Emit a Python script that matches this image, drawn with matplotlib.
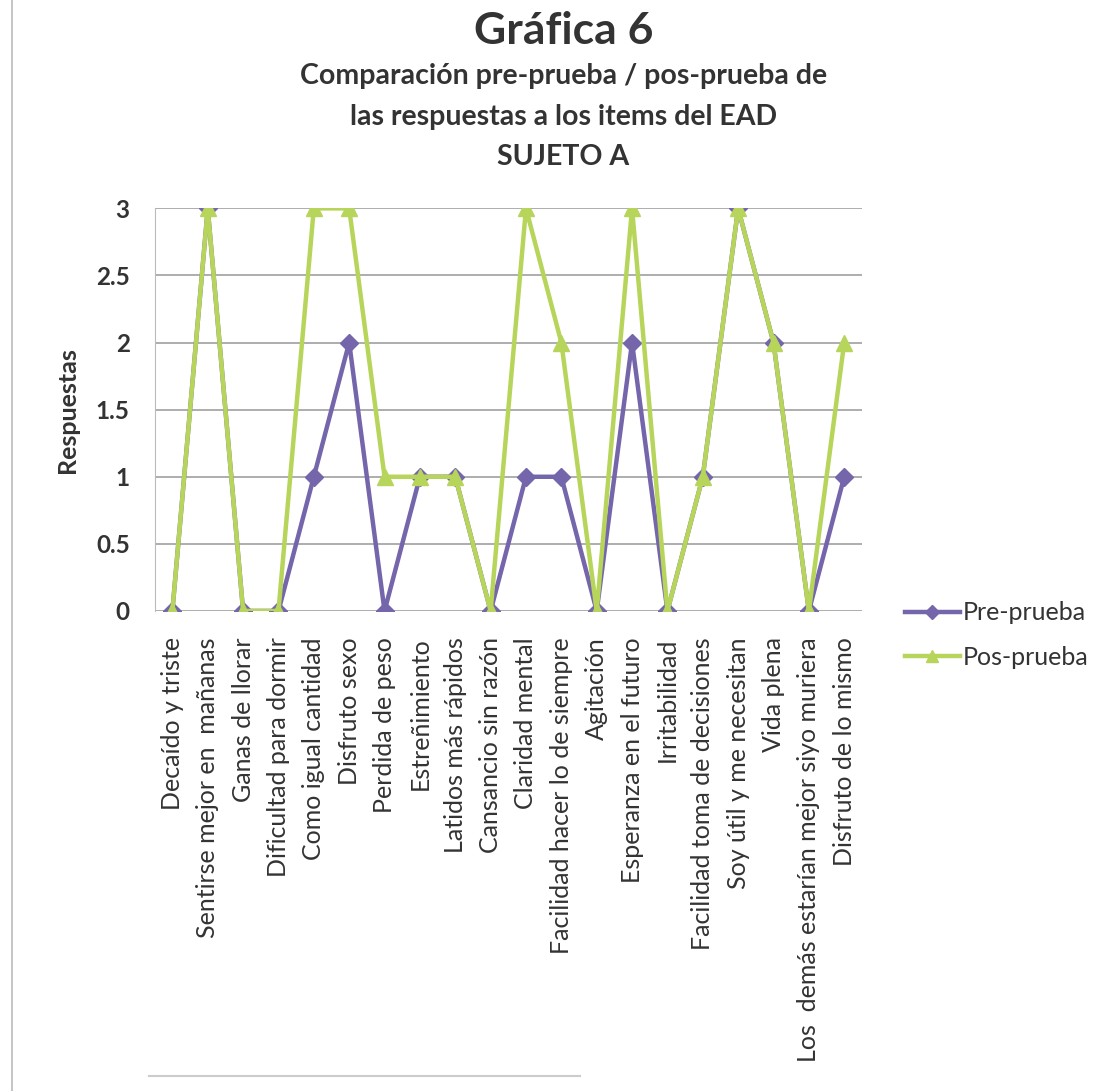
import matplotlib as mpl
mpl.use('agg')
import matplotlib.pyplot as plt
from matplotlib.lines import Line2D

# EAD items and the answers given by subject A before and after treatment
items = ['Decaído y triste', 'Sentirse mejor en  mañanas', 'Ganas de llorar',
         'Dificultad para dormir', 'Como igual cantidad', 'Disfruto sexo',
         'Perdida de peso', 'Estreñimiento', 'Latidos más rápidos',
         'Cansancio sin razón', 'Claridad mental', 'Facilidad hacer lo de siempre',
         'Agitación', 'Esperanza en el futuro', 'Irritabilidad',
         'Facilidad toma de decisiones', 'Soy útil y me necesitan', 'Vida plena',
         'Los  demás estarían mejor siyo muriera', 'Disfruto de lo mismo']
pre_prueba = [0, 3, 0, 0, 1, 2, 0, 1, 1, 0, 1, 1, 0, 2, 0, 1, 3, 2, 0, 1]
pos_prueba = [0, 3, 0, 0, 3, 3, 1, 1, 1, 0, 3, 2, 0, 3, 0, 1, 3, 2, 0, 2]
yticks = [0, 0.5, 1, 1.5, 2, 2.5, 3]
ytick_labels = ['0', '0.5', '1', '1.5', '2', '2.5', '3']

PURPLE = '#7565ab'
GREEN = '#b6d55a'
TEXT = '#333333'

plt.rcParams['font.family'] = ['Lato', 'DejaVu Sans']

fig = plt.figure(figsize=(11.05, 10.91), dpi=100)
ax = fig.add_axes([0.140, 0.440, 0.640, 0.369])

x = list(range(len(items)))
ax.plot(x, pre_prueba, color=PURPLE, lw=3.2, marker='D', ms=9, zorder=3,
        label='Pre-prueba')
ax.plot(x, pos_prueba, color=GREEN, lw=3.2, marker='^', ms=11, zorder=4,
        label='Pos-prueba')

ax.set_xlim(-0.5, len(items) - 0.5)
ax.set_ylim(0, 3)
ax.set_yticks(yticks)
ax.set_yticklabels(ytick_labels, fontsize=17.5, fontweight='bold', color=TEXT)
ax.set_xticks(x)
ax.set_xticklabels(items, rotation=90, fontsize=18, color=TEXT)
ax.tick_params(axis='x', length=0, pad=19)
ax.tick_params(axis='y', length=0, pad=18)
ax.yaxis.grid(True, color='#a0a0a0', lw=1.2)
ax.set_axisbelow(True)
for side in ('top', 'right', 'bottom'):
    ax.spines[side].set_visible(False)
ax.spines['left'].set_color('#bbbbbb')
ax.set_ylabel('Respuestas', fontsize=18, fontweight='bold', color=TEXT,
              labelpad=12)

# legend to the right of the plot area
handles = [Line2D([], [], color=PURPLE, lw=3.2, marker='D', ms=7),
           Line2D([], [], color=GREEN, lw=3.2, marker='^', ms=8)]
fig.legend(handles, ['Pre-prueba', 'Pos-prueba'], loc='center left',
           bbox_to_anchor=(0.819, 0.418), frameon=False, fontsize=18,
           borderpad=0, borderaxespad=0,
           handlelength=2.2, handletextpad=0.1, labelspacing=0.85,
           labelcolor=TEXT)

fig.text(0.51, 0.972, 'Gráfica 6', ha='center', va='center',
         fontsize=32, fontweight='bold', color=TEXT)
fig.text(0.51, 0.893,
         'Comparación pre-prueba / pos-prueba de\nlas respuestas a los items del EAD\nSUJETO A',
         ha='center', va='center', fontsize=20.5, fontweight='bold', color=TEXT,
         linespacing=1.68)

# page edge lines
fig.add_artist(Line2D([0.011, 0.011], [0.0, 1.0], color='#bbbbbb', lw=1.2))
fig.add_artist(Line2D([0.135, 0.525], [0.014, 0.014], color='#cccccc', lw=1.5))

fig.savefig('out.png', dpi=100, facecolor='white')
